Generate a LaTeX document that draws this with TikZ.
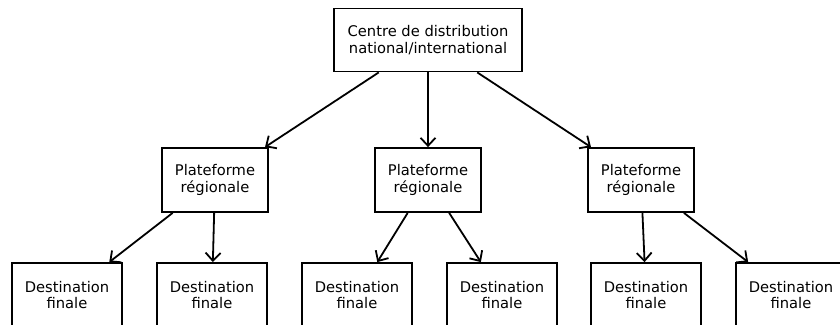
\documentclass[tikz,border=0pt]{standalone}
\usepackage{fontspec}
\setmainfont{DejaVu Sans}
\usetikzlibrary{arrows.meta}
\tikzstyle{box}=[draw,line width=1.8pt,align=center,inner sep=0pt,font=\fontsize{14.7}{16.5}\selectfont]
\tikzstyle{edge} = [draw,line width=1.8pt,-{Straight Barb[length=8pt,width=15pt]}]

\begin{document}
\begin{tikzpicture}[x=1pt,y=-1pt]
   \clip (0,0) rectangle (840,324);

   \node[box,minimum width=188pt,minimum height=63pt] (centre) at (428,40) {Centre de distribution\\national/international};

    \foreach \pos/ \name in {{(215,180)/plat1},{(428,180)/plat2},{(641,180)/plat3}}
        \node[box,minimum width=106pt,minimum height=64pt] (\name) at \pos {Plateforme\\régionale};

    \foreach \pos/ \name in {{(67,295)/dest1},{(212,295)/dest2},{(357,295)/dest3},{(502,295)/dest4},{(646,295)/dest5},{(791,295)/dest6}}
        \node[box,minimum width=110pt,minimum height=64pt] (\name) at \pos {Destination\\finale};

    % Connect the levels with arrows
    \foreach \source/ \dest in {centre/plat1, centre/plat2, centre/plat3, plat1/dest1, plat1/dest2, plat2/dest3, plat2/dest4, plat3/dest5, plat3/dest6}
        \path[edge] (\source) -- (\dest);

\end{tikzpicture}
\end{document}
